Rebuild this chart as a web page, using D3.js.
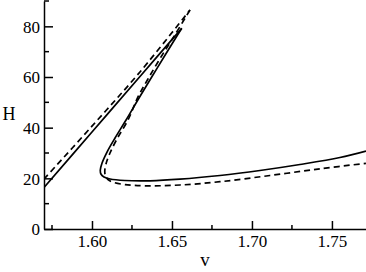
<!DOCTYPE html>
<html>
<head>
<meta charset="utf-8">
<script src="https://cdn.jsdelivr.net/npm/d3@7/dist/d3.min.js"></script>
<style>
html,body{margin:0;padding:0;background:#fff;}
svg{display:block;}
</style>
</head>
<body>
<svg id="chart" width="366" height="272"></svg>
<script>
// Solid curve: upper branch (v, H) from left edge up to the tip
const solidUpperV = [1.570, 1.600, 1.630, 1.6561];
const solidUpperH = [16.4, 38.3, 60.2, 79.2];
// Solid curve: lower branch from the tip, round the nose, to the right edge
const solidLowerV = [1.6561, 1.6469, 1.6381, 1.6294, 1.6213, 1.6144, 1.6094, 1.6063, 1.6052, 1.6056, 1.6075, 1.6113, 1.6206, 1.6363, 1.6550, 1.6800, 1.7050, 1.7300, 1.7550, 1.7713];
const solidLowerH = [79.22, 69.87, 60.79, 51.71, 43.03, 35.92, 30.39, 26.05, 23.29, 21.71, 20.53, 19.74, 19.14, 19.03, 19.66, 21.12, 23.09, 25.46, 28.22, 30.79];
// Dashed curve: upper branch
const dashUpperV = [1.570, 1.600, 1.630, 1.66125];
const dashUpperH = [19.7, 40.6, 62.0, 86.45];
// Dashed curve: lower branch
const dashLowerV = [1.66125, 1.65219, 1.64313, 1.6350, 1.62875, 1.6225, 1.61563, 1.61125, 1.60875, 1.6080, 1.60844, 1.6100, 1.61313, 1.62063, 1.63313, 1.6550, 1.6800, 1.71125, 1.7425, 1.77125];
const dashLowerH = [86.45, 76.97, 67.89, 59.21, 52.11, 43.03, 35.53, 30.0, 25.66, 22.89, 20.92, 19.54, 18.47, 17.53, 17.05, 17.37, 18.67, 21.12, 23.76, 25.93];

const xMajorTicks = [1.60, 1.65, 1.70, 1.75];
const xMinorTicks = [1.575, 1.625, 1.675, 1.725];
const yMajorTicks = [0, 20, 40, 60, 80];
const yMinorTicks = [10, 30, 50, 70, 90];
const xLabel = "v";
const yLabel = "H";

const FONT = "'Liberation Serif', 'Times New Roman', Times, serif";
const svg = d3.select("#chart");
const x = d3.scaleLinear().domain([1.57, 1.7713]).range([44, 366]);
const y = d3.scaleLinear().domain([0, 90]).range([229, 1]);

const zip = (a, b) => a.map((d, i) => [d, b[i]]);
const line = d3.line().x(d => x(d[0])).y(d => y(d[1])).curve(d3.curveCatmullRom.alpha(0.5));

svg.append("clipPath").attr("id", "clip").append("rect")
  .attr("x", 44).attr("y", 0).attr("width", 322).attr("height", 229);

const g = svg.append("g").attr("clip-path", "url(#clip)");
function draw(v, h, dashed) {
  g.append("path").datum(zip(v, h)).attr("d", line)
    .attr("fill", "none").attr("stroke", "#000")
    .attr("stroke-width", 1.7)
    .attr("stroke-linejoin", "round")
    .attr("stroke-dasharray", dashed ? "6,4" : null);
}
draw(solidUpperV, solidUpperH, false);
draw(solidLowerV, solidLowerH, false);
draw(dashUpperV, dashUpperH, true);
draw(dashLowerV, dashLowerH, true);

// X axis (ticks pointing inward/up)
const xAxis = svg.append("g").attr("transform", "translate(0,229)");
xAxis.call(d3.axisBottom(x).tickValues(xMajorTicks).tickSizeInner(-8).tickSizeOuter(0).tickFormat(d3.format(".2f")));
xAxis.append("g").selectAll("line").data(xMinorTicks).join("line")
  .attr("x1", d => x(d)).attr("x2", d => x(d)).attr("y1", 0).attr("y2", -4);
xAxis.selectAll("line").attr("stroke", "#000").attr("stroke-width", 1.5);
xAxis.select(".domain").attr("stroke", "#000").attr("stroke-width", 1.5);
xAxis.selectAll(".tick text").style("font-family", FONT).style("font-size", "17px")
  .attr("dy", null).attr("y", 18).attr("fill", "#000");

// Y axis (ticks pointing inward/right)
const yAxis = svg.append("g").attr("transform", "translate(44,0)");
yAxis.call(d3.axisLeft(y).tickValues(yMajorTicks).tickSizeInner(-9).tickSizeOuter(0).tickFormat(d3.format("d")));
yAxis.append("g").selectAll("line").data(yMinorTicks).join("line")
  .attr("x1", 0).attr("x2", 5).attr("y1", d => y(d)).attr("y2", d => y(d));
yAxis.selectAll("line").attr("stroke", "#000").attr("stroke-width", 1.5);
yAxis.select(".domain").attr("stroke", "#000").attr("stroke-width", 1.5);
yAxis.selectAll(".tick text").style("font-family", FONT).style("font-size", "17px")
  .attr("x", -4).attr("dy", "0.35em").attr("fill", "#000");

svg.append("text").attr("x", 9).attr("y", 120).attr("text-anchor", "middle")
  .style("font-family", FONT).style("font-size", "18px").text(yLabel);
svg.append("text").attr("x", 205).attr("y", 266).attr("text-anchor", "middle")
  .style("font-family", FONT).style("font-size", "19px").text(xLabel);
</script>
</body>
</html>
